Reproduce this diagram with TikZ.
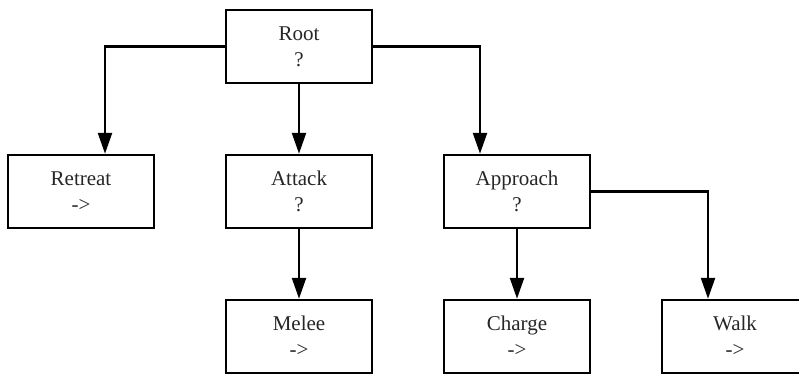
\documentclass[tikz,border=0pt]{standalone}
\usepackage{fontspec}
\setmainfont{Liberation Serif}
\usetikzlibrary{arrows.meta}
\usetikzlibrary{positioning}

\begin{document}
\begin{tikzpicture}[
  x=1pt, y=-1pt,
  node distance=69.5pt,
  task/.style={
    rectangle, draw, line width=2.5pt,
    minimum width=146pt, minimum height=73pt,
    text=black!85,
    align=center, font=\fontsize{21}{26}\selectfont},
  arr/.style={-{Triangle[length=21pt, width=14pt]}, line width=2.5pt},
]
  \useasboundingbox (0,0) rectangle (799,375);

  % ── Tree nodes ──────────────────────────────────────────────────────────
  \node[task] (Root) at (299,46.5) {Root\\?};
  \node[task, below=of Root]      (Attack)   {Attack\\?};
  \node[task, left=of Attack]     (Retreat)  {Retreat\\->};
  \node[task, right=of Attack]    (Approach) {Approach\\?};
  \node[task, below=of Attack]    (Melee)    {Melee\\->};
  \node[task, below=of Approach]  (Charge)   {Charge\\->};
  \node[task, right=of Charge]    (Walk)     {Walk\\->};

  % ── Root children ───────────────────────────────────────────────────────
  \draw[arr] (Root.west) -| ([xshift=24pt]Retreat.north);
  \draw[arr] (Root)      -- (Attack);
  \draw[arr] (Root.east) -| ([xshift=-37pt]Approach.north);

  % ── Lower level ─────────────────────────────────────────────────────────
  \draw[arr] (Attack)   -- (Melee);
  \draw[arr] (Approach) -- (Charge);
  \draw[arr] (Approach.east) -| ([xshift=-27pt]Walk.north);

\end{tikzpicture}
\end{document}
